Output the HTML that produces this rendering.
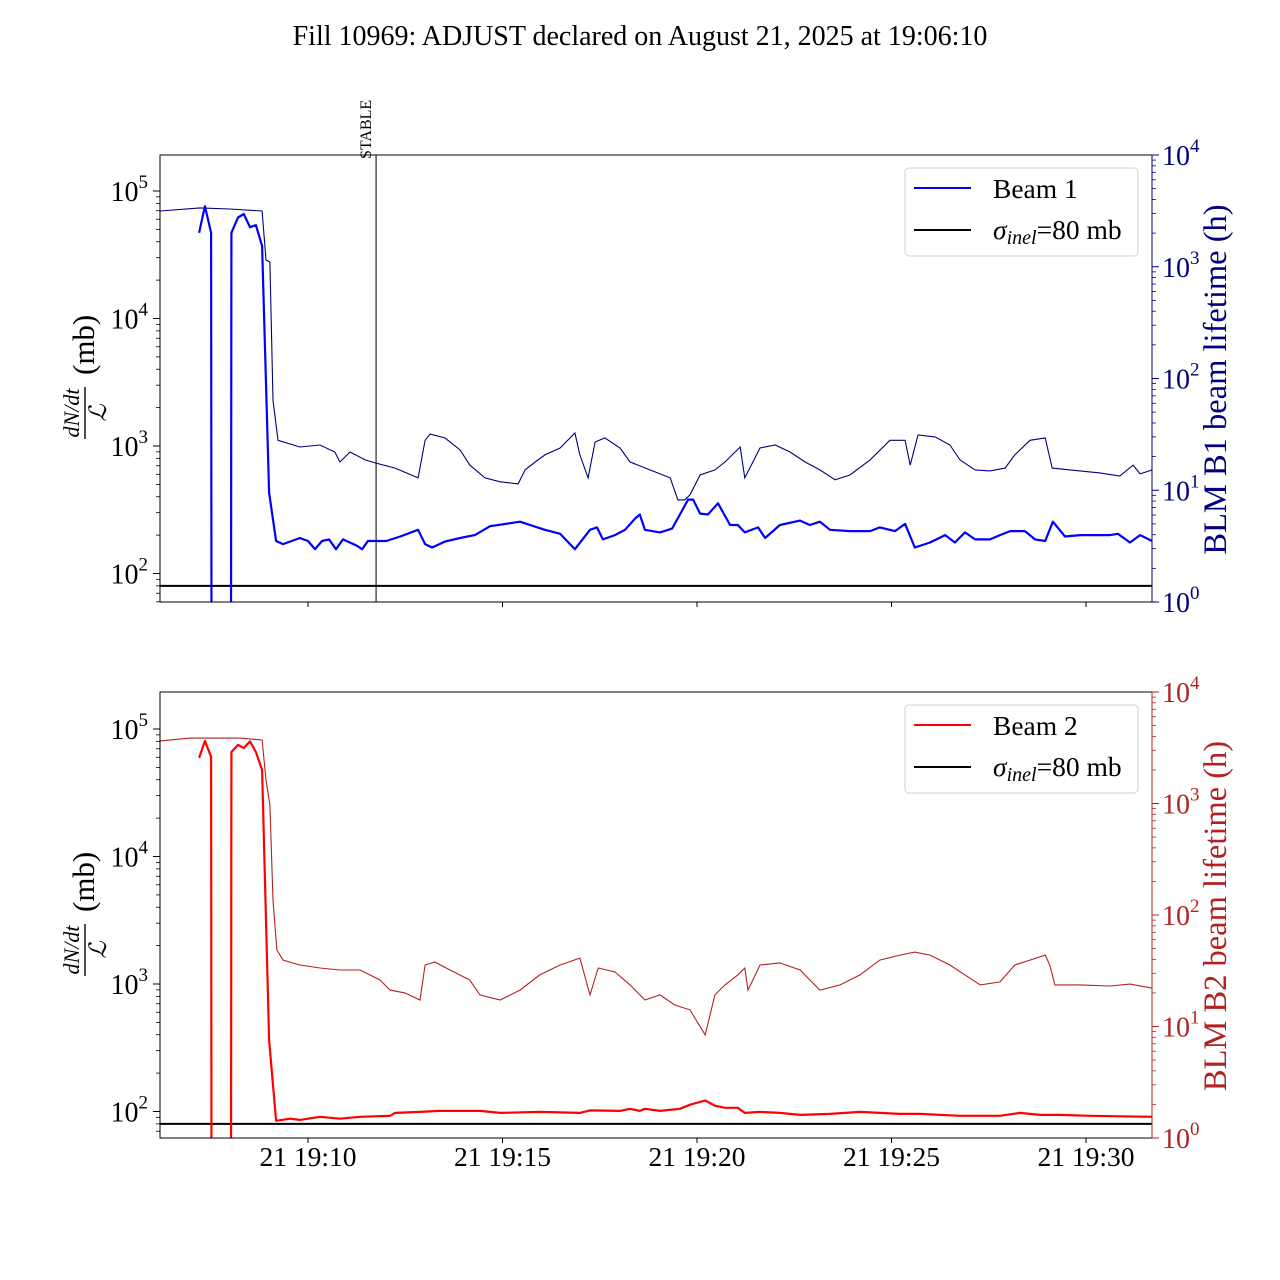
<!DOCTYPE html>
<html><head><meta charset="utf-8">
<style>
html,body{margin:0;padding:0;background:#fff;}
svg{display:block;font-family:"Liberation Serif",serif;}
</style></head>
<body>
<svg id="chart" width="1280" height="1280" viewBox="0 0 1280 1280" xmlns="http://www.w3.org/2000/svg">
<rect x="0" y="0" width="1280" height="1280" fill="#fff"/>
<text x="640" y="45" font-size="28" text-anchor="middle">Fill 10969: ADJUST declared on August 21, 2025 at 19:06:10</text>
<defs>
<clipPath id="clipTop"><rect x="160" y="155" width="992" height="447"/></clipPath>
<clipPath id="clipBot"><rect x="160" y="692" width="992" height="446"/></clipPath>
</defs>
<g id="top"></g>
<g id="bot"></g>
</svg>
<script>
// time in minutes after 19:00
const xTickMinutes = [10, 15, 20, 25, 30];
const xTickLabels = ["21 19:10", "21 19:15", "21 19:20", "21 19:25", "21 19:30"];
const stableMinute = 11.75;
const sigmaInel = 80;

const b1LossT = [7.20,7.35,7.51,7.52,8.02,8.03,8.20,8.35,8.51,8.66,8.82,9.00,9.18,9.36,9.79,10.0,10.18,10.36,10.54,10.72,10.90,11.26,11.39,11.54,12.01,12.37,12.83,13.01,13.19,13.52,13.91,14.29,14.68,15.45,15.71,16.09,16.48,16.86,17.25,17.43,17.58,17.89,18.15,18.41,18.53,18.66,19.05,19.36,19.56,19.77,19.90,20.08,20.28,20.54,20.85,21.05,21.23,21.57,21.75,22.13,22.65,22.90,23.16,23.42,23.93,24.45,24.70,25.09,25.35,25.60,25.99,26.38,26.63,26.89,27.15,27.53,27.79,28.05,28.43,28.69,28.95,29.15,29.46,29.85,30.62,30.82,31.13,31.39,31.70];
const b1LossV = [47000,76000,47000,1,1,47000,62000,66000,52000,54000,37000,430,180,170,190,180,155,180,185,155,185,165,155,180,180,195,220,170,160,178,190,200,235,255,240,220,205,155,220,230,185,200,220,270,290,220,210,225,290,380,380,295,290,355,240,240,210,230,190,240,260,240,255,220,215,215,230,215,245,160,175,200,175,210,185,185,200,215,215,185,180,255,195,200,200,205,175,200,180];

const b1LifeT = [6.20,7.22,7.99,8.82,8.92,9.02,9.10,9.23,9.79,10.31,10.69,10.82,11.08,11.47,11.75,12.24,12.83,13.01,13.14,13.52,13.91,14.16,14.55,14.94,15.40,15.58,15.84,16.09,16.48,16.86,16.99,17.20,17.38,17.63,18.02,18.28,18.79,19.31,19.51,19.69,19.82,20.08,20.46,20.72,21.11,21.23,21.62,22.01,22.39,22.78,23.16,23.55,23.93,24.45,24.96,25.35,25.48,25.68,26.12,26.50,26.76,27.15,27.53,27.92,28.17,28.56,28.95,29.13,29.59,30.36,30.87,31.21,31.39,31.70];
const b1LifeV = [3155,3360,3290,3155,1150,1100,64,28,24.4,25.4,22,17.9,22,18.7,17.5,15.8,12.9,28,31.8,29.4,22.9,16.8,12.9,11.9,11.4,15.2,17.9,20.7,23.9,32.5,20.7,12.9,27,29.4,23.9,17.9,15.2,12.9,8.2,8.2,9.1,13.7,15.2,17.9,24.4,12.9,23.9,25.4,22,17.9,15.2,12.4,13.7,18.7,28,28,16.8,31.2,30,25.4,18.7,15.2,14.9,15.8,20.7,28,29.4,15.8,15.2,14.3,13.4,16.8,14,15.2];

const b2LossT = [7.20,7.35,7.51,7.52,8.02,8.03,8.20,8.35,8.51,8.66,8.82,9.00,9.18,9.54,9.79,10.31,10.82,11.34,12.11,12.24,12.88,13.39,14.42,14.94,15.96,16.99,17.25,18.02,18.28,18.53,18.66,19.05,19.56,19.82,20.21,20.46,20.72,21.05,21.23,21.62,22.13,22.65,23.42,24.19,25.22,25.73,26.76,27.79,28.30,28.82,29.33,30.10,31.70];
const b2LossV = [59300,80500,60600,1,1,66000,75000,71000,80000,66000,47700,364,84.5,87.8,86,90.8,87.8,90.8,92.5,97.5,99.3,101,101,97.5,99.3,97.5,102,101,105,101,105,101,105,113,122,111,107,107,97.5,99.3,97.5,94,95.8,99.3,95.8,95.8,92.5,92.5,97.5,94,94,92.5,90.8];

const b2LifeT = [6.20,6.97,8.25,8.82,8.92,9.02,9.10,9.20,9.36,9.79,10.31,10.82,11.34,11.85,12.11,12.49,12.88,13.01,13.26,13.65,14.16,14.42,14.94,15.45,15.96,16.48,16.99,17.25,17.46,17.89,18.28,18.66,19.05,19.43,19.82,20.21,20.46,20.72,21.05,21.23,21.31,21.62,22.13,22.65,23.16,23.68,24.19,24.70,25.22,25.60,25.99,26.50,26.89,27.28,27.79,28.17,28.56,28.95,29.07,29.20,29.85,30.62,31.13,31.70];
const b2LifeV = [3640,3860,3860,3710,1625,970,136,48.5,39.4,35.6,33.5,32.1,32.1,26.1,21.2,20,17.3,35.6,37.9,32.1,26.1,19.2,17.3,21.2,29,35.6,41.1,19.2,33.5,30.8,23.6,17.3,19.2,15.6,14.1,8.4,19.2,23.6,29,33.5,21.2,35.6,37.2,32.1,21.2,23.6,29,39.4,43.7,46.5,43.7,35.6,29,23.6,25.1,35.6,39.4,43.7,35.6,23.6,23.6,23.1,24,22.1];

const NS = "http://www.w3.org/2000/svg";
const X0 = 160, X1 = 1152;
function xScale(t){ return 308 + (t - 10) * 38.9; }
function mk(tag, attrs, parent){ const e = document.createElementNS(NS, tag); for (const k in attrs) e.setAttribute(k, attrs[k]); parent.appendChild(e); return e; }

function drawPanel(g, top, bot, leftTopDec, rightCol, beamCol, beamName, rightLabel, showX, lossT, lossV, lifeT, lifeV, clip, prefix){
  const lDec = 127.5;
  const yL = v => top + (leftTopDec - Math.log10(v)) * lDec;
  const rDec = (bot - top) / 4;
  const yR = v => top + (4 - Math.log10(v)) * rDec;
  let d = lifeT.map((t,i)=>(i?'L':'M')+xScale(t).toFixed(1)+','+yR(lifeV[i]).toFixed(1)).join('');
  const life = mk('path',{d:d,fill:'none',stroke:rightCol,'stroke-width':1.1,'clip-path':'url(#'+clip+')'},g);
  
  
  const sl = mk('line',{x1:X0,x2:X1,y1:yL(sigmaInel),y2:yL(sigmaInel),stroke:'#000','stroke-width':2},g);
  
  
  d = lossT.map((t,i)=>(i?'L':'M')+xScale(t).toFixed(1)+','+Math.min(yL(lossV[i]),bot+50).toFixed(1)).join('');
  const loss = mk('path',{d:d,fill:'none',stroke:beamCol,'stroke-width':2.2,'stroke-linejoin':'round','clip-path':'url(#'+clip+')'},g);
  
  
  const fr = mk('rect',{x:X0,y:top,width:X1-X0,height:bot-top,fill:'none',stroke:'#000','stroke-width':1},g);
  
  
  const lo = leftTopDec - (bot-top)/lDec;
  for (let e = Math.floor(lo); e <= Math.ceil(leftTopDec); e++){
    for (let m = 1; m < 10; m++){
      const v = m*Math.pow(10,e); const y = yL(v);
      if (y < top-0.5 || y > bot+0.5) continue;
      mk('line',{x1:X0,x2:X0-(m==1?7:4),y1:y,y2:y,stroke:'#000','stroke-width':m==1?1:0.8},g);
      if (m==1){
        const tx = mk('text',{x:X0-12,y:y+10,'font-size':28,'text-anchor':'end'},g);
        
        
        tx.innerHTML = '10<tspan font-size="19" dy="-13">'+e+'</tspan>';
      }
    }
  }
  for (let e = 0; e <= 4; e++){
    for (let m = 1; m < 10; m++){
      const v = m*Math.pow(10,e); const y = yR(v);
      if (y < top-0.5 || y > bot+0.5) continue;
      mk('line',{x1:X1,x2:X1+(m==1?7:4),y1:y,y2:y,stroke:rightCol,'stroke-width':m==1?1:0.8},g);
      if (m==1){
        const tx = mk('text',{x:X1+10,y:y+10,'font-size':28,fill:rightCol},g);
        
        
        tx.innerHTML = '10<tspan font-size="19" dy="-13">'+e+'</tspan>';
      }
    }
  }
  mk('line',{x1:X1,x2:X1,y1:top,y2:bot,stroke:rightCol,'stroke-width':1},g);
  xTickMinutes.forEach((t,i)=>{
    const x = xScale(t);
    mk('line',{x1:x,x2:x,y1:bot,y2:bot+5,stroke:'#000','stroke-width':1},g);
    if (showX){
      const tx = mk('text',{x:x,y:bot+28,'font-size':27.5,'text-anchor':'middle'},g);
      
      
      tx.textContent = xTickLabels[i];
    }
  });
  const cy = (top+bot)/2;
  const rl = mk('text',{x:0,y:0,'font-size':32.5,fill:rightCol,'text-anchor':'middle',transform:'translate(1226,'+(cy+1)+') rotate(-90)'},g);
  
  
  rl.textContent = rightLabel;
  const lg = mk('g',{transform:'translate(88,'+(top+226)+') rotate(-90)'},g);
  
  
  const n = mk('text',{x:-32,y:-9,'font-size':22,'font-style':'italic','text-anchor':'middle'},lg); n.textContent='dN/dt';
  mk('line',{x1:-58,x2:-6,y1:-3,y2:-3,stroke:'#000','stroke-width':1.4},lg);
  const dd = mk('text',{x:-32,y:18,'font-size':24,'font-style':'italic','text-anchor':'middle'},lg); dd.textContent='ℒ';
  const mb = mk('text',{x:6,y:6,'font-size':31},lg); mb.textContent='(mb)';
  const lgd = mk('g',{},g);
  
  
  mk('rect',{x:905,y:top+13,width:233,height:88,rx:4,fill:'#fff',stroke:'#d0d0d0','stroke-width':1},lgd);
  mk('line',{x1:914,x2:971,y1:top+33,y2:top+33,stroke:beamCol,'stroke-width':2},lgd);
  const t1 = mk('text',{x:993,y:top+43,'font-size':27.5},lgd); t1.textContent = beamName;
  mk('line',{x1:914,x2:971,y1:top+75,y2:top+75,stroke:'#000','stroke-width':2},lgd);
  const t2 = mk('text',{x:993,y:top+84,'font-size':27.5},lgd);
  t2.innerHTML = '<tspan font-style="italic">σ</tspan><tspan font-style="italic" font-size="20" dy="5">inel</tspan><tspan dy="-5">=80 mb</tspan>';
}

const gt = document.getElementById('top');


drawPanel(gt, 155, 602, 5 + 36/127.5, '#000080', '#0000ff', 'Beam 1', 'BLM B1 beam lifetime (h)', false, b1LossT, b1LossV, b1LifeT, b1LifeV, 'clipTop', 'beam1');
const gb = document.getElementById('bot');


drawPanel(gb, 692, 1138, 5 + 37/127.5, '#b22222', '#ff0000', 'Beam 2', 'BLM B2 beam lifetime (h)', true, b2LossT, b2LossV, b2LifeT, b2LifeV, 'clipBot', 'beam2');

const sx = xScale(stableMinute);
const st = mk('line',{x1:sx,x2:sx,y1:155,y2:602,stroke:'#000','stroke-width':1},gt);


const stt = mk('text',{x:0,y:0,'font-size':16,transform:'translate('+(sx-5)+',159) rotate(-90)'},gt);


stt.textContent = 'STABLE';
</script>
</body></html>
